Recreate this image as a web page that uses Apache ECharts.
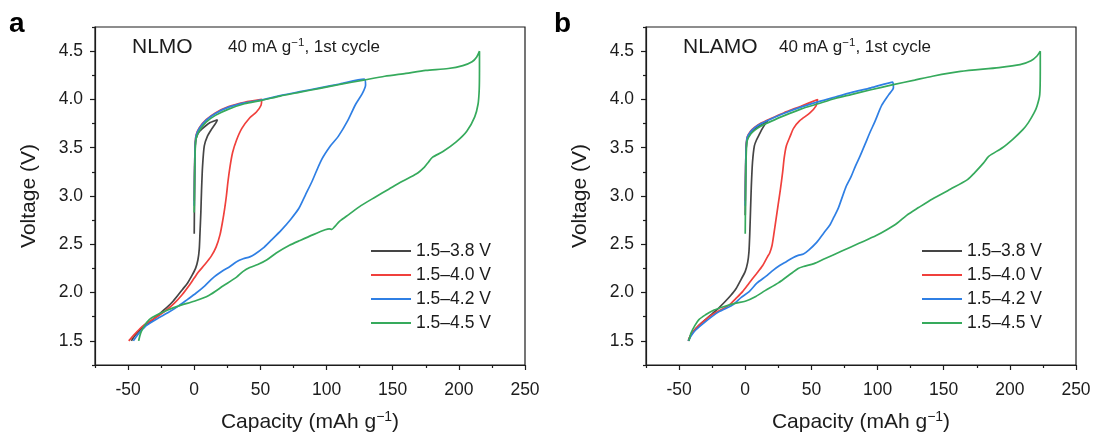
<!DOCTYPE html>
<html><head><meta charset="utf-8">
<script src="https://cdn.jsdelivr.net/npm/echarts@6/dist/echarts.min.js"></script>
<style>html,body{margin:0;padding:0;background:#fff}#c{width:1097px;height:440px}</style>
</head><body><div id="c"></div>
<script>
// ---------- data ----------
const seriesNames = ['1.5–3.8 V', '1.5–4.0 V', '1.5–4.2 V', '1.5–4.5 V'];
const seriesColors = ['#454545', '#f0403c', '#2f7fe4', '#36aa5c'];
const xMajorTicks = [-50, 0, 50, 100, 150, 200, 250];
const xMinorTicks = [-75, -25, 25, 75, 125, 175, 225];
const yMajorTicks = [1.5, 2.0, 2.5, 3.0, 3.5, 4.0, 4.5];
const yMinorTicks = [1.25, 1.75, 2.25, 2.75, 3.25, 3.75, 4.25, 4.75];
const panelTitles = ['NLMO', 'NLAMO'];
const panelLetters = ['a', 'b'];

// NLMO, [capacity, voltage]
const nlmo38 = [[0,2.61],[0.2,3.0],[0.5,3.4],[1,3.56],[2,3.62],[4,3.67],[8,3.72],[12,3.76],[17.5,3.79],
 [16.5,3.76],[13,3.69],[10,3.62],[7.6,3.52],[6.3,3.31],[5.5,3.05],[5,2.83],[4.3,2.6],[3.8,2.45],[2.8,2.34],[1,2.25],[-2,2.17],[-5,2.1],[-9,2.03],[-16,1.91],[-22,1.83],[-27,1.77],[-32,1.71],[-37,1.66],[-41,1.61],[-44.5,1.56],[-47.5,1.5]];
const nlmo40 = [[0,2.95],[0.3,3.3],[0.8,3.55],[1.5,3.635],[4,3.71],[9,3.79],[16,3.86],[26,3.925],[38,3.97],[51,4.0],
 [50.5,3.94],[47,3.87],[42,3.81],[36,3.70],[32,3.58],[29,3.45],[27,3.30],[25.5,3.15],[24.3,3.0],[23,2.87],[21.6,2.75],[19.5,2.60],[16.5,2.47],[13,2.38],[8,2.29],[3,2.21],[0,2.15],[-4,2.07],[-9,1.98],[-15,1.89],[-20,1.83],[-27,1.76],[-34,1.70],[-40,1.64],[-45,1.57],[-49.5,1.5]];
const nlmo42 = [[0,2.9],[0.3,3.3],[0.8,3.55],[1.5,3.63],[4,3.705],[9,3.785],[16,3.855],[26,3.92],[38,3.965],[51,3.995],[65,4.04],[80,4.08],[95,4.12],[110,4.16],[128.5,4.21],
 [129.5,4.15],[127,4.06],[122,3.95],[116,3.78],[109,3.62],[103,3.52],[96,3.37],[89,3.15],[84,3.01],[79,2.87],[73,2.76],[66,2.65],[58,2.54],[52,2.46],[46,2.40],[42,2.37],[37,2.35],[32,2.32],[27,2.27],[21,2.22],[14,2.15],[8,2.07],[1,1.99],[-5,1.93],[-12,1.86],[-20,1.79],[-28,1.73],[-36,1.66],[-41,1.59],[-44,1.54],[-46,1.5]];
const nlmo45 = [[0,2.83],[0.3,3.2],[0.8,3.5],[1.5,3.60],[4,3.68],[9,3.765],[16,3.835],[26,3.90],[38,3.955],[51,3.99],[65,4.035],[80,4.075],[95,4.115],[110,4.155],[128,4.2],[144,4.24],[160,4.27],[175,4.30],[192,4.32],[203,4.35],[210,4.39],[213.5,4.44],[215.6,4.5],
 [215.6,4.3],[215.4,4.1],[214.5,3.95],[212,3.82],[206,3.67],[198,3.56],[188,3.46],[180,3.40],[177,3.35],[174,3.30],[168,3.23],[157,3.15],[147,3.07],[137,2.99],[126,2.90],[117,2.81],[110,2.74],[106,2.68],[104,2.655],[102,2.66],[99,2.65],[90,2.60],[80,2.54],[72,2.49],[62,2.41],[55,2.34],[48,2.29],[42,2.26],[37,2.22],[32,2.16],[22,2.07],[11,1.97],[0,1.91],[-10,1.87],[-20,1.82],[-28,1.77],[-34,1.72],[-38,1.65],[-40.5,1.58],[-42,1.5]];

// NLAMO, [capacity, voltage]
const nlamo38 = [[0,2.8],[0.3,3.2],[0.7,3.5],[1.3,3.58],[3,3.63],[6,3.68],[10,3.72],[13.5,3.75],[17,3.78],
 [15.8,3.76],[13,3.70],[10.7,3.64],[8.5,3.58],[6.9,3.52],[5.5,3.35],[4.6,3.1],[4,2.85],[3.4,2.6],[2.8,2.42],[1.8,2.31],[0,2.22],[-3,2.14],[-7,2.04],[-11,1.97],[-15,1.91],[-20,1.84],[-25,1.78],[-30,1.72],[-35,1.66],[-39,1.6],[-41.5,1.55],[-43,1.5]];
const nlamo40 = [[0,2.95],[0.3,3.3],[0.8,3.52],[1.5,3.61],[4,3.67],[7,3.71],[12,3.755],[19,3.80],[29,3.86],[42,3.93],[54.7,4.0],
 [53.4,3.93],[48.9,3.86],[41.2,3.78],[36.5,3.70],[34,3.62],[31.1,3.52],[29.5,3.40],[28.3,3.25],[26.5,3.06],[25,2.92],[23.4,2.77],[21.8,2.62],[20.3,2.49],[18.5,2.41],[16.8,2.37],[13.2,2.28],[8.2,2.19],[3,2.10],[-2,2.01],[-7,1.94],[-12.2,1.87],[-20,1.81],[-25,1.77],[-30,1.72],[-35,1.66],[-39,1.6],[-41.5,1.55],[-43,1.5]];
const nlamo42 = [[0,2.9],[0.3,3.3],[0.8,3.52],[1.5,3.605],[4,3.665],[7,3.705],[12,3.75],[19,3.795],[29,3.855],[42,3.92],[55,3.975],[68,4.025],[80,4.07],[95,4.12],[111.5,4.18],
 [112,4.12],[108.5,4.05],[103.2,3.94],[98,3.77],[94,3.65],[91,3.55],[87,3.42],[83.3,3.31],[80,3.20],[76,3.09],[70.5,2.88],[67,2.78],[64,2.70],[59.5,2.62],[54,2.52],[48,2.44],[44,2.40],[40,2.385],[36,2.36],[31,2.32],[26,2.28],[20,2.22],[15.8,2.17],[9,2.10],[3,2.01],[-3,1.95],[-9.7,1.87],[-20,1.80],[-30,1.70],[-37.6,1.61],[-41,1.55],[-43,1.5]];
const nlamo45 = [[0,2.61],[0.3,3.1],[0.8,3.45],[1.5,3.575],[4,3.64],[7,3.68],[12,3.725],[19,3.77],[29,3.83],[42,3.90],[55,3.955],[68,4.01],[80,4.05],[95,4.10],[111,4.15],[128,4.2],[141.5,4.24],[162.7,4.29],[191.8,4.33],[207.7,4.36],[216,4.4],[220.5,4.45],[223,4.5],
 [223,4.3],[222.6,4.05],[220.5,3.93],[218.3,3.86],[214,3.76],[210,3.69],[202.4,3.59],[194.4,3.50],[184,3.41],[180,3.34],[173.3,3.24],[168,3.17],[155,3.07],[141.5,2.97],[131,2.88],[122,2.80],[115,2.72],[107,2.65],[99,2.59],[86,2.51],[73,2.43],[60,2.35],[52,2.30],[44,2.27],[40,2.25],[35,2.20],[25,2.10],[15,2.02],[8,1.96],[0,1.91],[-7,1.89],[-17,1.85],[-25,1.81],[-30,1.77],[-35,1.72],[-38,1.66],[-41,1.58],[-42.5,1.5]];

const panelData = [[nlmo38, nlmo40, nlmo42, nlmo45], [nlamo38, nlamo40, nlamo42, nlamo45]];

// ---------- chart ----------
const FONT = '"Liberation Sans", Arial, Helvetica, sans-serif';
const INK = '#1c1c1c';
const gridBoxes = [
  {left: 95, right: 572, top: 27, bottom: 74},
  {left: 646, right: 21, top: 27, bottom: 74}
];
const legendLefts = [366, 917];
const titleLefts = [[132, 228], [683, 779]];
const letterLefts = [9, 554];

const xAxes = [], yAxes = [], series = [], legends = [], graphics = [];
const lineSt = {color: INK, width: 1.2};
const supRich = (fs) => ({s: {fontSize: fs, fontFamily: FONT, color: INK, verticalAlign: 'top', lineHeight: fs}});

gridBoxes.forEach((g, gi) => {
  xAxes.push({
    type: 'value', gridIndex: gi, min: -75, max: 250, interval: 25, position: 'bottom',
    axisLine: {show: true, onZero: false, lineStyle: lineSt},
    axisTick: {show: true, customValues: xMajorTicks, length: 5, lineStyle: lineSt},
    axisLabel: {customValues: xMajorTicks, fontSize: 17.5, color: INK, fontFamily: FONT, margin: 16,
                formatter: v => String(v)},
    splitLine: {show: false},
    name: 'Capacity (mAh g{s|−1})', nameLocation: 'middle', nameGap: 45,
    nameTextStyle: {fontSize: 21, fontFamily: FONT, color: INK, lineHeight: 25, rich: supRich(14)}
  });
  xAxes.push({
    type: 'value', gridIndex: gi, min: -75, max: 250, interval: 25, position: 'bottom',
    axisLine: {show: false, onZero: false},
    axisTick: {show: true, customValues: xMinorTicks, length: 3, lineStyle: lineSt},
    axisLabel: {show: false}, splitLine: {show: false}
  });
  yAxes.push({
    type: 'value', gridIndex: gi, min: 1.25, max: 4.75, interval: 0.25, position: 'left',
    axisLine: {show: true, onZero: false, lineStyle: lineSt},
    axisTick: {show: true, customValues: yMajorTicks, length: 5, lineStyle: lineSt},
    axisLabel: {customValues: yMajorTicks, fontSize: 17.5, color: INK, fontFamily: FONT, margin: 12,
                formatter: v => Number(v).toFixed(1)},
    splitLine: {show: false},
    name: 'Voltage (V)', nameLocation: 'middle', nameGap: 55, nameRotate: 90,
    nameTextStyle: {fontSize: 21, fontFamily: FONT, color: INK}
  });
  yAxes.push({
    type: 'value', gridIndex: gi, min: 1.25, max: 4.75, interval: 0.25, position: 'left',
    axisLine: {show: false, onZero: false},
    axisTick: {show: true, customValues: yMinorTicks, length: 3, lineStyle: lineSt},
    axisLabel: {show: false}, splitLine: {show: false}
  });
  panelData[gi].forEach((d, si) => {
    series.push({
      type: 'line', name: seriesNames[si], xAxisIndex: gi * 2, yAxisIndex: gi * 2,
      data: d, symbol: 'none', showSymbol: false, smooth: 0.25,
      lineStyle: {width: 1.7, color: seriesColors[si]}, itemStyle: {color: seriesColors[si]},
      emphasis: {disabled: true}
    });
  });
  legends.push({
    data: seriesNames, orient: 'vertical', left: legendLefts[gi], top: 237,
    itemWidth: 40, itemHeight: 2, itemGap: 6, icon: 'rect', selectedMode: false,
    textStyle: {fontSize: 17.5, color: INK, fontFamily: FONT, lineHeight: 18}
  });
  graphics.push({type: 'text', left: letterLefts[gi], top: 10,
    style: {text: panelLetters[gi], fontSize: 28, fontWeight: 'bold', fontFamily: FONT, fill: '#000'}});
  graphics.push({type: 'text', left: titleLefts[gi][0], top: 37,
    style: {text: panelTitles[gi], fontSize: 21, fontFamily: FONT, fill: INK}});
  graphics.push({type: 'text', left: titleLefts[gi][1], top: 37,
    style: {text: '40 mA g{s|−1}, 1st cycle', fontSize: 17, fontFamily: FONT, fill: INK, lineHeight: 20,
            rich: {s: {fontSize: 11.5, fontFamily: FONT, fill: INK, verticalAlign: 'top', lineHeight: 11}}}});
});

const chart = echarts.init(document.getElementById('c'), null, {renderer: 'canvas'});
chart.setOption({
  animation: false,
  backgroundColor: '#fff',
  grid: gridBoxes.map(g => Object.assign({show: true, borderColor: INK, borderWidth: 1.2, backgroundColor: 'transparent'}, g)),
  xAxis: xAxes, yAxis: yAxes, series: series, legend: legends, graphic: graphics
});
</script></body></html>
